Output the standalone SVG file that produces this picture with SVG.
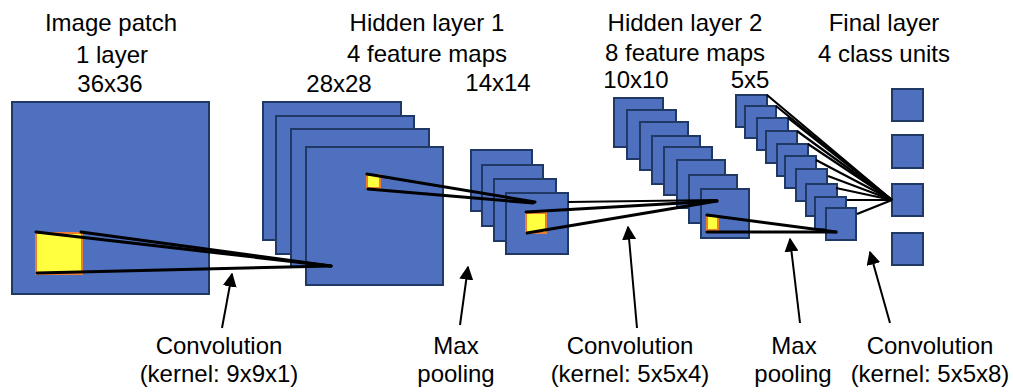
<svg xmlns="http://www.w3.org/2000/svg" width="1013" height="392" viewBox="0 0 1013 392">
<style>
.m{fill:#4e70be;stroke:#1f3864;stroke-width:2}
.p{fill:#ffff40;stroke:#ed7d31;stroke-width:2}
.t{font-family:"Liberation Sans",Arial,sans-serif;font-size:24px;fill:#000;text-anchor:middle}
.k{stroke:#000;stroke-width:3;stroke-linecap:round;fill:none}
.f{stroke:#000;stroke-width:2.2;fill:none}
.a{stroke:#000;stroke-width:2;fill:none;marker-end:url(#ah)}
</style>
<defs>
<marker id="ah" viewBox="0 0 10 10" refX="9" refY="5" markerWidth="14" markerHeight="14" markerUnits="userSpaceOnUse" orient="auto">
<path d="M0,0 L10,5 L0,10 z" fill="#000"/>
</marker>
</defs>

<g id="labels-top">
<text class="t" x="111" y="31">Image patch</text>
<text class="t" x="112" y="63">1 layer</text>
<text class="t" x="110" y="92">36x36</text>
<text class="t" x="427" y="31">Hidden layer 1</text>
<text class="t" x="427" y="62">4 feature maps</text>
<text class="t" x="339" y="92">28x28</text>
<text class="t" x="498" y="91">14x14</text>
<text class="t" x="685" y="31">Hidden layer 2</text>
<text class="t" x="685" y="61">8 feature maps</text>
<text class="t" x="636" y="88">10x10</text>
<text class="t" x="750" y="88">5x5</text>
<text class="t" x="884" y="31">Final layer</text>
<text class="t" x="884" y="62">4 class units</text>
</g>

<g id="input-layer">
<rect class="m" x="12" y="102" width="197" height="192"/>
<rect class="p" x="36" y="233" width="46" height="41"/>
</g>

<g id="hidden1-conv">
<rect class="m" x="263" y="102" width="138" height="138"/>
<rect class="m" x="276" y="116" width="138" height="138"/>
<rect class="m" x="291" y="129" width="138" height="138"/>
<rect class="m" x="306" y="147" width="137" height="138"/>
<rect class="p" x="367" y="175" width="13" height="13"/>
</g>

<g id="hidden1-pool">
<rect class="m" x="471" y="150" width="61" height="61"/>
<rect class="m" x="482" y="165" width="61" height="61"/>
<rect class="m" x="494" y="179" width="62" height="62"/>
<rect class="m" x="506" y="193" width="62" height="61"/>
<rect class="p" x="526" y="213" width="20" height="20"/>
</g>

<g id="hidden2-conv">
<rect class="m" x="614" y="98" width="49" height="49"/>
<rect class="m" x="627" y="110" width="49" height="49"/>
<rect class="m" x="640" y="122" width="48" height="48"/>
<rect class="m" x="652" y="136" width="48" height="48"/>
<rect class="m" x="664" y="147" width="48" height="48"/>
<rect class="m" x="677" y="160" width="48" height="48"/>
<rect class="m" x="689" y="175" width="48" height="48"/>
<rect class="m" x="701" y="189" width="48" height="49"/>
<rect class="p" x="707" y="216" width="11" height="14"/>
</g>

<g id="hidden2-pool">
<rect class="m" x="736" y="95" width="31" height="32"/>
<rect class="m" x="745" y="106" width="31" height="32"/>
<rect class="m" x="757" y="118" width="31" height="32"/>
<rect class="m" x="766" y="131" width="31" height="32"/>
<rect class="m" x="777" y="144" width="31" height="32"/>
<rect class="m" x="785" y="156" width="31" height="32"/>
<rect class="m" x="796" y="169" width="31" height="32"/>
<rect class="m" x="806" y="184" width="31" height="32"/>
<rect class="m" x="815" y="197" width="31" height="32"/>
<rect class="m" x="826" y="208" width="30" height="32"/>
</g>

<g id="final-layer">
<rect class="m" x="892" y="89" width="31" height="32"/>
<rect class="m" x="892" y="135" width="31" height="33"/>
<rect class="m" x="892" y="184" width="31" height="32"/>
<rect class="m" x="892" y="233" width="31" height="32"/>
</g>

<g id="connectors">
<line class="k" x1="36" y1="232" x2="331" y2="266"/>
<line class="k" x1="81" y1="232" x2="331" y2="266"/>
<line class="k" x1="37" y1="273" x2="331" y2="266"/>
<line class="k" x1="367" y1="174" x2="535" y2="202"/>
<line class="k" x1="368" y1="189" x2="533" y2="203"/>
<line class="k" x1="526" y1="212" x2="717" y2="201"/>
<line class="k" x1="527" y1="233" x2="717" y2="201"/>
<line class="f" x1="568" y1="202" x2="717" y2="200"/>
<line class="k" x1="707" y1="215" x2="836" y2="232"/>
<line class="k" x1="707" y1="232" x2="836" y2="232"/>
<line class="f" x1="767" y1="95" x2="892" y2="200"/>
<line class="f" x1="776" y1="106" x2="892" y2="200"/>
<line class="f" x1="788" y1="118" x2="892" y2="200"/>
<line class="f" x1="797" y1="131" x2="892" y2="200"/>
<line class="f" x1="808" y1="144" x2="892" y2="200"/>
<line class="f" x1="816" y1="160" x2="892" y2="200"/>
<line class="f" x1="828" y1="176" x2="892" y2="200"/>
<line class="f" x1="836" y1="188" x2="892" y2="200"/>
<line class="f" x1="847" y1="200" x2="892" y2="200"/>
<line class="f" x1="857" y1="214" x2="892" y2="200"/>
<line class="a" x1="222" y1="328" x2="232" y2="274"/>
<line class="a" x1="460" y1="325" x2="468" y2="267"/>
<line class="a" x1="637" y1="328" x2="628" y2="227"/>
<line class="a" x1="800" y1="323" x2="790" y2="239"/>
<line class="a" x1="890" y1="323" x2="870" y2="252"/>
</g>

<g id="labels-bottom">
<text class="t" x="219" y="354">Convolution</text>
<text class="t" x="219" y="382">(kernel: 9x9x1)</text>
<text class="t" x="456" y="354">Max</text>
<text class="t" x="456" y="382">pooling</text>
<text class="t" x="630" y="354">Convolution</text>
<text class="t" x="630" y="382">(kernel: 5x5x4)</text>
<text class="t" x="794" y="354">Max</text>
<text class="t" x="793" y="382">pooling</text>
<text class="t" x="930" y="354">Convolution</text>
<text class="t" x="930" y="382">(kernel: 5x5x8)</text>
</g>
</svg>
